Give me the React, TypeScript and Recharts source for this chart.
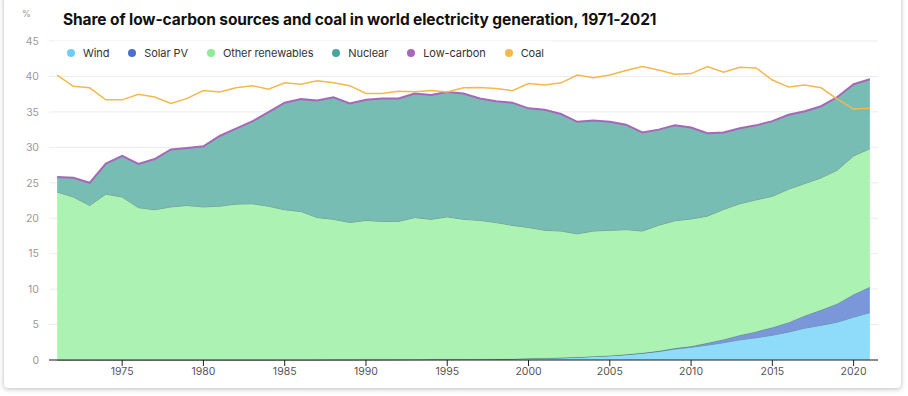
import { Area, CartesianGrid, ComposedChart, Line, XAxis, YAxis } from 'recharts'

const years = [
  1971, 1972, 1973, 1974, 1975, 1976, 1977, 1978, 1979, 1980,
  1981, 1982, 1983, 1984, 1985, 1986, 1987, 1988, 1989, 1990,
  1991, 1992, 1993, 1994, 1995, 1996, 1997, 1998, 1999, 2000,
  2001, 2002, 2003, 2004, 2005, 2006, 2007, 2008, 2009, 2010,
  2011, 2012, 2013, 2014, 2015, 2016, 2017, 2018, 2019, 2020,
  2021,
]

const wind = [
  0, 0, 0, 0, 0, 0, 0, 0, 0, 0,
  0, 0, 0, 0, 0.01, 0.01, 0.01, 0.02, 0.02, 0.03,
  0.03, 0.04, 0.05, 0.06, 0.06, 0.07, 0.08, 0.1, 0.14, 0.2,
  0.25, 0.3, 0.38, 0.5, 0.6, 0.75, 0.95, 1.2, 1.55, 1.8,
  2.1, 2.45, 2.85, 3.15, 3.5, 3.95, 4.5, 4.9, 5.35, 6.05,
  6.7,
]

const solarPv = [
  0, 0, 0, 0, 0, 0, 0, 0, 0, 0,
  0, 0, 0, 0, 0, 0, 0, 0, 0, 0,
  0, 0, 0, 0, 0, 0, 0, 0, 0, 0.01,
  0.01, 0.01, 0.01, 0.01, 0.01, 0.02, 0.03, 0.06, 0.1, 0.15,
  0.3, 0.45, 0.65, 0.85, 1.1, 1.35, 1.75, 2.15, 2.6, 3.2,
  3.6,
]

const otherRenewables = [
  23.7, 23.0, 21.8, 23.4, 23.0, 21.5, 21.2, 21.6, 21.8, 21.6,
  21.7, 22.0, 22.05, 21.7, 21.19, 20.94, 20.09, 19.83, 19.38, 19.67,
  19.52, 19.51, 20.05, 19.79, 20.14, 19.78, 19.62, 19.3, 18.86, 18.49,
  18.04, 17.89, 17.41, 17.69, 17.69, 17.63, 17.22, 17.74, 18.0, 17.95,
  17.9, 18.35, 18.55, 18.6, 18.5, 18.8, 18.65, 18.65, 18.85, 19.55,
  19.5,
]

const nuclear = [
  2.1, 2.7, 3.2, 4.3, 5.8, 6.15, 7.15, 8.1, 8.1, 8.55,
  9.9, 10.65, 11.6, 13.25, 15.1, 15.85, 16.5, 17.2, 16.8, 17.0,
  17.35, 17.35, 17.5, 17.55, 17.6, 17.75, 17.2, 17.1, 17.3, 16.8,
  17.0, 16.5, 15.8, 15.6, 15.3, 14.8, 13.9, 13.5, 13.45, 12.9,
  11.7, 10.85, 10.65, 10.5, 10.6, 10.5, 10.2, 10.1, 10.3, 10.1,
  9.8,
]

const coal = [
  40.2, 38.6, 38.4, 36.7, 36.7, 37.5, 37.1, 36.2, 36.9, 38.0,
  37.8, 38.4, 38.7, 38.2, 39.1, 38.9, 39.4, 39.1, 38.7, 37.6,
  37.6, 37.9, 37.85, 38.0, 37.8, 38.4, 38.45, 38.3, 38.0, 39.0,
  38.8, 39.1, 40.2, 39.8, 40.2, 40.85, 41.4, 40.9, 40.3, 40.4,
  41.4, 40.6, 41.3, 41.2, 39.5, 38.5, 38.8, 38.4, 36.8, 35.4,
  35.5,
]

const xTicks = [1975, 1980, 1985, 1990, 1995, 2000, 2005, 2010, 2015, 2020]
const yTicks = [0, 5, 10, 15, 20, 25, 30, 35, 40, 45]

const data = years.map((year, i) => ({
  year,
  wind: wind[i],
  solarPv: solarPv[i],
  otherRenewables: otherRenewables[i],
  nuclear: nuclear[i],
  lowCarbon: +(wind[i] + solarPv[i] + otherRenewables[i] + nuclear[i]).toFixed(2),
  coal: coal[i],
}))

const legendItems = [
  { name: 'Wind', color: '#6dcdf7' },
  { name: 'Solar PV', color: '#4a6fcc' },
  { name: 'Other renewables', color: '#8eeb9a' },
  { name: 'Nuclear', color: '#46a69b' },
  { name: 'Low-carbon', color: '#a667ba' },
  { name: 'Coal', color: '#f5b84d' },
]

const FONT = 'Inter, "Noto Sans", sans-serif'

const Legend = () => (
  <div
    style={{
      position: 'absolute',
      left: 55,
      top: 41,
      width: 496,
      height: 23,
      background: '#fff',
      display: 'flex',
      alignItems: 'center',
      paddingLeft: 12,
      boxSizing: 'border-box',
      fontSize: 11,
      letterSpacing: -0.1,
      color: '#333',
      whiteSpace: 'nowrap',
    }}
  >
    {legendItems.map((item) => (
      <div
        key={item.name}
        style={{ display: 'flex', alignItems: 'center', marginRight: 19, flexShrink: 0 }}
      >
        <span
          style={{
            width: 8,
            height: 8,
            borderRadius: 4,
            background: item.color,
            marginRight: 8,
            flexShrink: 0,
          }}
        />
        {item.name}
      </div>
    ))}
  </div>
)

export default function App() {
  return (
    <div
      style={{
        position: 'absolute',
        left: 0,
        top: 0,
        width: 908,
        height: 396,
        overflow: 'hidden',
        background: '#fff',
        fontFamily: FONT,
      }}
    >
      <div
        style={{
          position: 'absolute',
          left: 4,
          top: -6,
          width: 897,
          height: 394,
          background: '#fff',
          borderRadius: 4,
          boxShadow: '0 1px 5px rgba(0,0,0,0.28)',
        }}
      />
      <div style={{ position: 'absolute', left: 0, top: 0 }}>
        <ComposedChart
          width={908}
          height={396}
          data={data}
          margin={{ top: 41, right: 30, bottom: 0, left: 0 }}
        >
          <CartesianGrid vertical={false} stroke="#ececec" />
          <XAxis
            dataKey="year"
            type="number"
            domain={[1970.5, 2021.5]}
            ticks={xTicks}
            height={36}
            tickSize={6}
            axisLine={{ stroke: '#222' }}
            tickLine={{ stroke: '#222' }}
            tick={{ fill: '#555', fontSize: 10.5, fontFamily: FONT }}
          />
          <YAxis
            type="number"
            domain={[0, 45]}
            ticks={yTicks}
            width={49}
            axisLine={false}
            tickLine={false}
            tickMargin={4}
            tick={{ fill: '#999', fontSize: 10.5, fontFamily: FONT }}
          />
          <Area
            type="linear"
            dataKey="wind"
            stackId="s"
            fill="#86d8fa"
            fillOpacity={0.92}
            stroke="#3f5a66"
            strokeWidth={0.6}
            isAnimationActive={false}
          />
          <Area
            type="linear"
            dataKey="solarPv"
            stackId="s"
            fill="#6f8fd6"
            fillOpacity={0.92}
            stroke="#3f5a66"
            strokeWidth={0.6}
            isAnimationActive={false}
          />
          <Area
            type="linear"
            dataKey="otherRenewables"
            stackId="s"
            fill="#a4f1ad"
            fillOpacity={0.92}
            stroke="#3f5a5a"
            strokeWidth={0.6}
            isAnimationActive={false}
          />
          <Area
            type="linear"
            dataKey="nuclear"
            stackId="s"
            fill="#6db7ad"
            fillOpacity={0.92}
            stroke="none"
            isAnimationActive={false}
          />
          <Line
            type="linear"
            dataKey="lowCarbon"
            stroke="#a667ba"
            strokeWidth={2}
            dot={false}
            activeDot={false}
            isAnimationActive={false}
          />
          <Line
            type="linear"
            dataKey="coal"
            stroke="#f5b84d"
            strokeWidth={1.5}
            dot={false}
            activeDot={false}
            isAnimationActive={false}
          />
        </ComposedChart>
      </div>
      <div
        style={{
          position: 'absolute',
          left: 22,
          top: 8,
          fontSize: 9,
          color: '#999',
        }}
      >
        %
      </div>
      <div
        style={{
          position: 'absolute',
          left: 63,
          top: 9,
          fontSize: 15.5,
          fontWeight: 700,
          letterSpacing: -0.1,
          lineHeight: '22px',
          color: '#111',
          whiteSpace: 'nowrap',
        }}
      >
        Share of low-carbon sources and coal in world electricity generation, 1971-2021
      </div>
      <Legend />
    </div>
  )
}
